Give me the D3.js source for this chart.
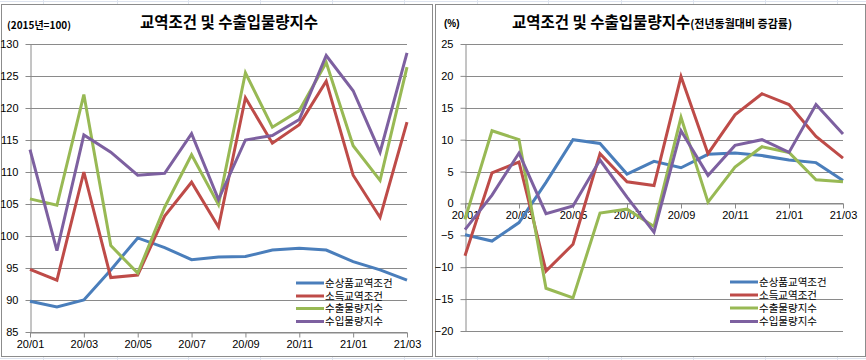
<!DOCTYPE html>
<html><head><meta charset="utf-8">
<script src="https://cdn.jsdelivr.net/npm/d3@7"></script>
<style>
html,body{margin:0;padding:0;background:#fff;}
svg{display:block;}
text{font-family:"Liberation Sans","Noto Sans CJK KR",sans-serif;}
.kr{font-family:"Noto Sans CJK KR",sans-serif;}
</style></head>
<body>
<svg id="c" width="866" height="360"></svg>
<script>
const months = ["20/01","20/02","20/03","20/04","20/05","20/06","20/07","20/08","20/09","20/10","20/11","20/12","21/01","21/02","21/03"];
const seriesNames = ["순상품교역조건","소득교역조건","수출물량지수","수입물량지수"];
const seriesColors = ["#4a7ebb","#be4b48","#98b954","#7d60a0"];

// Left panel: index (2015=100)
const netTermsIdx   = [89.8, 88.9, 90.0, 94.7, 99.7, 98.2, 96.3, 96.7, 96.8, 97.8, 98.1, 97.8, 96.0, 94.7, 93.1];
const incomeTermsIdx= [94.8, 93.1, 110.0, 93.5, 93.9, 103.1, 108.4, 101.4, 121.6, 114.5, 117.4, 124.2, 109.5, 102.9, 117.8];
const exportVolIdx  = [105.8, 104.8, 122.1, 98.5, 94.2, 104.5, 112.7, 104.9, 125.5, 117.0, 119.6, 127.1, 114.1, 108.7, 126.4];
const importVolIdx  = [113.5, 97.7, 115.8, 113.1, 109.5, 109.8, 116.0, 105.7, 115.0, 115.7, 118.2, 128.2, 122.7, 113.1, 128.6];
const leftTicks = [85, 90, 95, 100, 105, 110, 115, 120, 125, 130];

// Right panel: YoY change (%)
const netTermsYoY   = [-4.9, -5.9, -3.0, 3.3, 10.0, 9.4, 4.6, 6.6, 5.6, 7.7, 7.9, 7.5, 6.8, 6.4, 3.6];
const incomeTermsYoY= [-8.2, 4.8, 6.5, -10.6, -6.4, 7.8, 3.4, 2.8, 19.9, 7.8, 13.9, 17.2, 15.5, 10.5, 7.1];
const exportVolYoY  = [-2.5, 11.4, 10.0, -13.3, -14.8, -1.5, -0.9, -3.6, 13.5, 0.2, 5.7, 8.9, 8.0, 3.7, 3.4];
const importVolYoY  = [-4.1, 1.3, 7.9, -1.6, -0.4, 6.8, 1.0, -4.5, 11.4, 4.4, 9.1, 10.0, 8.0, 15.5, 10.9];
const rightTicks = [-20, -15, -10, -5, 0, 5, 10, 15, 20, 25];

const xTickLabels = months.filter((m, i) => i % 2 === 0);

const svg = d3.select("#c");
const GRID = "#8a8a8a";

// faint spreadsheet background lines
const bg = svg.append("g");
bg.append("line").attr("x1",0).attr("x2",866).attr("y1",1.5).attr("y2",1.5).attr("stroke","#dde3ee");
bg.append("line").attr("x1",0).attr("x2",866).attr("y1",358.5).attr("y2",358.5).attr("stroke","#dde3ee");
[43,117,188,260,332,404,477,548,621,693,765,837].forEach(x=>{
  bg.append("line").attr("x1",x+.5).attr("x2",x+.5).attr("y1",0).attr("y2",5).attr("stroke","#dde3ee");
  bg.append("line").attr("x1",x+.5).attr("x2",x+.5).attr("y1",357).attr("y2",360).attr("stroke","#dde3ee");
});

function panel(cfg){
  const g = svg.append("g");
  g.append("rect").attr("x",cfg.bx+.5).attr("y",4.5).attr("width",cfg.bw).attr("height",352)
    .attr("fill","#fff").attr("stroke","#8c8c8c").attr("stroke-width",1);

  const x = d3.scaleLinear().domain([0, months.length-1]).range([cfg.x0, cfg.x1]);
  const y = d3.scaleLinear().domain(cfg.domain).range([cfg.y1, cfg.y0]);

  // gridlines
  g.append("g").selectAll("line").data(cfg.ticks).join("line")
    .attr("x1",cfg.x0).attr("x2",cfg.x1)
    .attr("y1",d=>Math.round(y(d))+.5).attr("y2",d=>Math.round(y(d))+.5)
    .attr("stroke",GRID).attr("stroke-width",1);

  // y axis
  const ya = g.append("g").attr("transform",`translate(${Math.round(cfg.x0)+.5},0)`)
    .call(d3.axisLeft(y).tickValues(cfg.ticks).tickSize(5).tickPadding(cfg.yPad).tickSizeOuter(0));
  ya.select(".domain").attr("stroke",GRID);
  ya.selectAll(".tick line").attr("stroke",GRID);
  ya.selectAll("text").attr("font-size",11).attr("fill","#000");

  // x axis
  const xa = g.append("g").attr("transform",`translate(0,${Math.round(y(cfg.xAxisAt))+.5})`)
    .call(d3.axisBottom(x).tickValues(d3.range(0, months.length, 2))
      .tickFormat((d,i)=>xTickLabels[i]).tickSize(5).tickPadding(3).tickSizeOuter(0));
  xa.select(".domain").attr("stroke",GRID);
  xa.selectAll(".tick line").attr("stroke",GRID);
  xa.selectAll("text").attr("font-size",11).attr("fill","#000");

  // lines
  const line = d3.line().x((d,i)=>x(i)).y(d=>y(d));
  cfg.series.forEach((s,k)=>{
    g.append("path").datum(s).attr("d",line).attr("fill","none")
      .attr("stroke",seriesColors[k]).attr("stroke-width",3).attr("stroke-linejoin","miter").attr("stroke-miterlimit",4);
  });

  // legend
  const lg = g.append("g");
  cfg.legendY.forEach((ly,k)=>{
    lg.append("line").attr("x1",cfg.lx).attr("x2",cfg.lx+28).attr("y1",ly).attr("y2",ly)
      .attr("stroke",seriesColors[k]).attr("stroke-width",3);
    lg.append("text").attr("class","kr").attr("x",cfg.lx+29).attr("y",ly).attr("dy","0.36em")
      .attr("font-size",10.5).attr("fill","#000").text(seriesNames[k]);
  });
  return g;
}

const gl = panel({bx:1, bw:431, x0:30, x1:407, y0:44, y1:332, domain:[85,130], ticks:leftTicks, xAxisAt:85, yPad:7,
  series:[netTermsIdx, incomeTermsIdx, exportVolIdx, importVolIdx], lx:296, legendY:[283,296,308.5,321.5]});
gl.append("text").attr("class","kr").attr("x",229).attr("y",22).attr("dy","0.36em").attr("text-anchor","middle")
  .attr("font-size",15.5).attr("font-weight","bold").text("교역조건 및 수출입물량지수");
gl.append("text").attr("class","kr").attr("x",7).attr("y",25).attr("dy","0.36em")
  .attr("font-size",10).attr("font-weight","bold").text("(2015년=100)");

const gr = panel({bx:435, bw:430, x0:465, x1:843, y0:44, y1:331, domain:[-20,25], ticks:rightTicks, xAxisAt:0, yPad:7,
  series:[netTermsYoY, incomeTermsYoY, exportVolYoY, importVolYoY], lx:730, legendY:[282,295,308,321.5]});
const t = gr.append("text").attr("class","kr").attr("x",512).attr("y",22).attr("dy","0.36em")
  .attr("font-size",15.5).attr("font-weight","bold");
t.append("tspan").text("교역조건 및 수출입물량지수");
t.append("tspan").attr("font-size",11).text("(전년동월대비 증감률)");
gr.append("text").attr("x",444).attr("y",23).attr("dy","0.36em")
  .attr("font-size",10).attr("font-weight","bold").text("(%)");
</script>
</body></html>
